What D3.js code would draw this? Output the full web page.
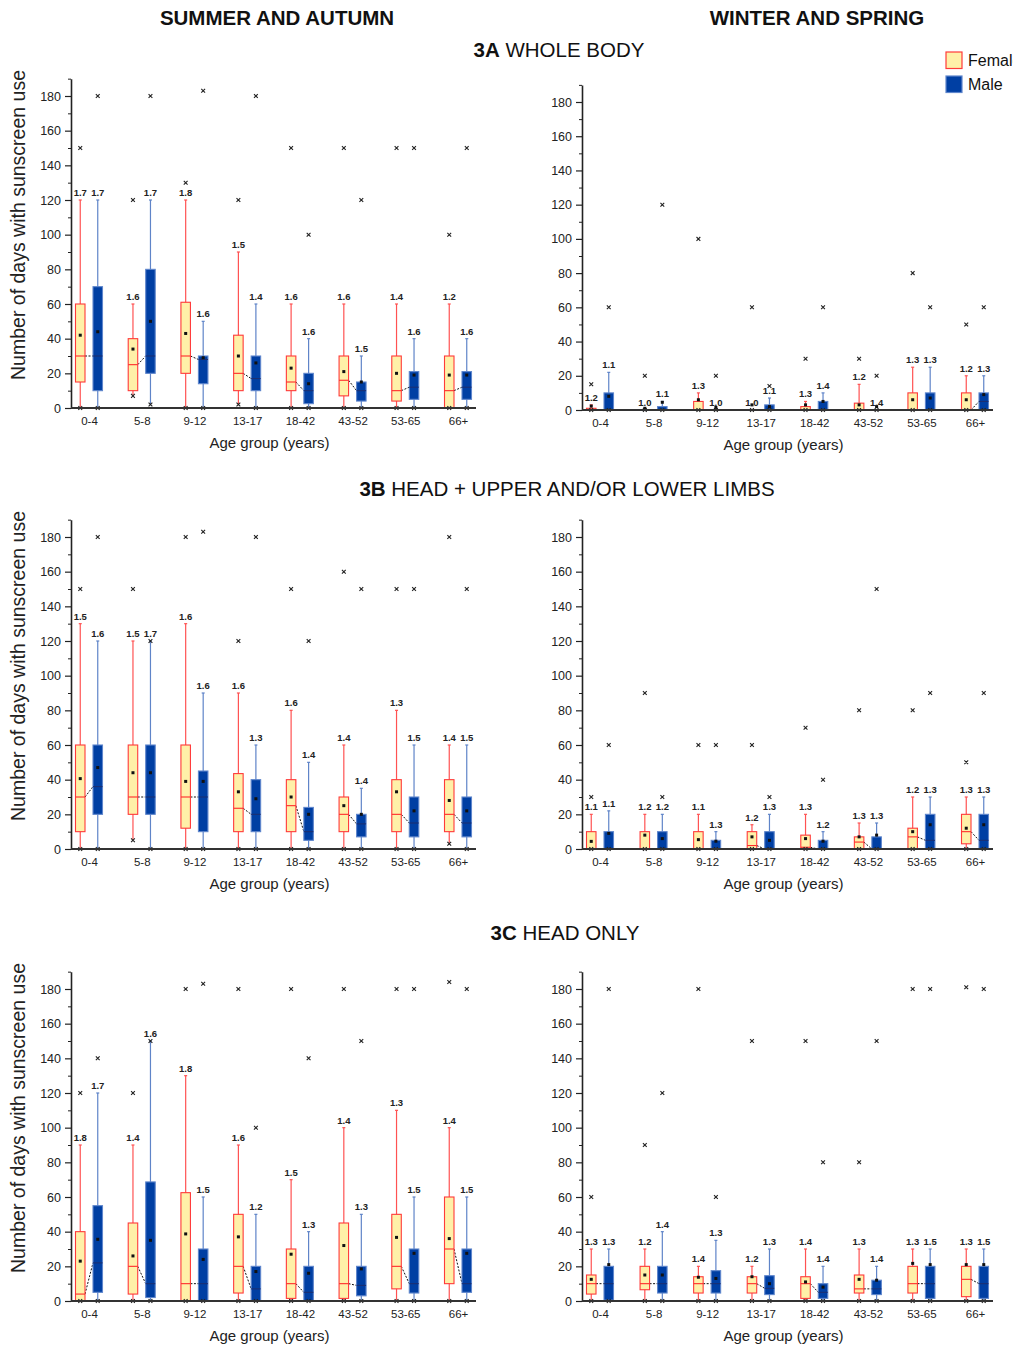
<!DOCTYPE html>
<html>
<head>
<meta charset="utf-8">
<script src="https://cdn.jsdelivr.net/npm/d3@7/dist/d3.min.js"></script>
<style>
  body { margin: 0; background: #fff; }
  svg { font-family: "Liberation Sans", Arial, sans-serif; display: block; }
</style>
</head>
<body>
<svg id="chart" width="1024" height="1361"></svg>
<script>
// ************************** DATA **************************//

var ageGroups = ["0-4", "5-8", "9-12", "13-17", "18-42", "43-52", "53-65", "66+"];
var sexes = ["Female", "Male"];
var yTicks = [0, 20, 40, 60, 80, 100, 120, 140, 160, 180];
var yMinorTicks = [10, 30, 50, 70, 90, 110, 130, 150, 170, 190];

// row: [whisker low, Q1, median, Q3, whisker high, mean, ratio label, x marks (min/max)]
var wholeSummerF = [
  [0, 15, 30, 60, 120, 42, "1.7", [150, 0]],
  [7, 10, 25, 40, 60, 34, "1.6", [120, 7]],
  [0, 20, 30, 61, 120, 43, "1.8", [130, 0]],
  [2, 10, 20, 42, 90, 30, "1.5", [120, 2]],
  [0, 10, 15, 30, 60, 23, "1.6", [150, 0]],
  [0, 7, 16, 30, 60, 21, "1.6", [150, 0]],
  [0, 4, 10, 30, 60, 20, "1.4", [150, 0]],
  [0, 0, 10, 30, 60, 19, "1.2", [100, 0]]
];
var wholeSummerM = [
  [0, 10, 30, 70, 120, 44, "1.7", [180, 0]],
  [2, 20, 30, 80, 120, 50, "1.7", [180, 2]],
  [0, 14, 28, 30, 50, 29, "1.6", [183, 0]],
  [0, 10, 17, 30, 60, 26, "1.4", [180, 0]],
  [0, 2.5, 10, 20, 40, 14, "1.6", [100, 0]],
  [0, 4, 10, 15, 30, 15, "1.5", [120, 0]],
  [0, 5, 12, 21, 40, 19, "1.6", [150, 0]],
  [0, 5, 12, 21, 40, 19, "1.6", [150, 0]]
];
var wholeWinterF = [
  [0, 0, 0, 1, 3, 2.3, "1.2", [15, 0]],
  [0, 0, 0, 0, 0, 1, "1.0", [20, 0]],
  [0, 0, 0, 5, 10, 6, "1.3", [100, 0]],
  [0, 0, 0, 0, 0, 3, "1.0", [60, 0]],
  [0, 0, 0, 2, 5, 3, "1.3", [30, 0]],
  [0, 0, 0, 4, 15, 3, "1.2", [30, 0]],
  [0, 0, 0, 10, 25, 6, "1.3", [80, 0]],
  [0, 0, 0, 10, 20, 6, "1.2", [50, 0]]
];
var wholeWinterM = [
  [0, 0, 0, 10, 22, 8, "1.1", [60, 0]],
  [0, 0, 0, 2, 5, 4.5, "1.1", [120, 0]],
  [0, 0, 0, 0, 0, 1.5, "1.0", [20, 0]],
  [0, 0, 0, 3, 7, 2, "1.1", [14, 0]],
  [0, 0, 0, 5, 10, 5, "1.4", [60, 0]],
  [0, 0, 0, 0, 0, 2, "1.4", [20, 0]],
  [0, 0, 0, 10, 25, 7, "1.3", [60, 0]],
  [0, 0, 5, 10, 20, 9, "1.3", [60, 0]]
];
var limbsSummerF = [
  [0, 10, 30, 60, 130, 40.6, "1.5", [150, 0]],
  [5, 20, 30, 60, 120, 44, "1.5", [150, 5]],
  [0, 12, 30, 60, 130, 39, "1.6", [180, 0]],
  [0, 10, 23.5, 43.5, 90, 33, "1.6", [120, 0]],
  [0, 10, 25, 40, 80, 30, "1.6", [150, 0]],
  [0, 10, 20, 30, 60, 25, "1.4", [160, 0]],
  [0, 10, 20, 40, 80, 33, "1.3", [150, 0]],
  [3, 10, 20, 40, 60, 28, "1.4", [180, 3]]
];
var limbsSummerM = [
  [0, 20, 36, 60, 120, 47, "1.6", [180, 0]],
  [0, 20, 30, 60, 120, 44, "1.7", [120, 0]],
  [0, 10, 30, 45, 90, 39, "1.6", [183, 0]],
  [0, 10, 20, 40, 60, 29, "1.3", [180, 0]],
  [0, 5, 10, 24, 50, 20, "1.4", [120, 0]],
  [0, 7, 14.5, 20, 35, 20, "1.4", [150, 0]],
  [0, 7, 15, 30, 60, 22, "1.5", [150, 0]],
  [0, 7, 15, 30, 60, 22, "1.5", [150, 0]]
];
var limbsWinterF = [
  [0, 0, 0, 10, 20, 4.4, "1.1", [30, 0]],
  [0, 0, 0, 10, 20, 8, "1.2", [90, 0]],
  [0, 0, 0, 10, 20, 5.4, "1.1", [60, 0]],
  [0, 0, 2, 10, 14, 7, "1.2", [60, 0]],
  [0, 0, 1, 8, 20, 6, "1.3", [70, 0]],
  [0, 0, 4, 7, 15, 7, "1.3", [80, 0]],
  [0, 0, 7, 12, 30, 10, "1.2", [80, 0]],
  [0, 3, 10, 20, 30, 12, "1.3", [50, 0]]
];
var limbsWinterM = [
  [0, 0, 0, 10, 22, 9, "1.1", [60, 0]],
  [0, 0, 0, 10, 20, 6, "1.2", [30, 0]],
  [0, 0, 0, 5, 10, 4.5, "1.3", [60, 0]],
  [0, 0, 0, 10, 20, 5, "1.3", [30, 0]],
  [0, 0, 0, 5, 10, 4.5, "1.2", [40, 0]],
  [0, 0, 0, 7, 15, 8, "1.3", [150, 0]],
  [0, 0, 5, 20, 30, 14, "1.3", [90, 0]],
  [0, 0, 5, 20, 30, 14, "1.3", [90, 0]]
];
var headSummerF = [
  [0, 0, 4, 40, 90, 23, "1.8", [120, 0]],
  [0, 4, 20, 45, 90, 26, "1.4", [120, 0]],
  [0, 0, 10, 62.5, 130, 38.7, "1.8", [180, 0]],
  [0, 4.6, 20, 50, 90, 37, "1.6", [180, 0]],
  [0, 1.5, 10, 30, 70, 27, "1.5", [180, 0]],
  [0, 1.5, 10, 45, 100, 32, "1.4", [180, 0]],
  [0, 7, 20, 50, 110, 36.7, "1.3", [180, 0]],
  [0, 10, 30, 60, 100, 36, "1.4", [184, 0]]
];
var headSummerM = [
  [0, 5, 22, 55, 120, 35.6, "1.7", [140, 0]],
  [0, 2, 10, 68.7, 150, 35, "1.6", [150, 0]],
  [0, 0, 10, 30, 60, 24, "1.5", [183, 0]],
  [0, 0, 7, 20, 50, 17, "1.2", [100, 0]],
  [0, 0, 5, 20, 40, 16, "1.3", [140, 0]],
  [0, 3, 9, 20, 50, 18.5, "1.3", [150, 0]],
  [0, 4.6, 10, 30, 60, 27.5, "1.5", [180, 0]],
  [0, 5, 10, 30, 60, 27.5, "1.5", [180, 0]]
];
var headWinterF = [
  [0, 4, 10, 15, 30, 12.5, "1.3", [60, 0]],
  [0, 6.5, 10, 20, 30, 15, "1.2", [90, 0]],
  [0, 4.6, 10, 14, 20, 13.7, "1.4", [180, 0]],
  [0, 4.6, 10, 14, 20, 14, "1.2", [150, 0]],
  [0, 1.5, 10, 14, 30, 11, "1.4", [150, 0]],
  [0, 4.6, 7, 15, 30, 12.5, "1.3", [80, 0]],
  [0, 4.6, 10, 20, 30, 21.7, "1.3", [180, 0]],
  [0, 2.5, 12.5, 20, 30, 21, "1.3", [181, 0]]
];
var headWinterM = [
  [0, 0.5, 10, 20, 30, 21, "1.3", [180, 0]],
  [0, 4.6, 10, 20, 40, 15, "1.4", [120, 0]],
  [0, 4.6, 10, 17.5, 35, 13, "1.3", [60, 0]],
  [0, 3.7, 7.3, 14.6, 30, 10, "1.3", [0]],
  [0, 1.5, 5, 10, 20, 8, "1.4", [80, 0]],
  [0, 3.7, 7, 12, 20, 12, "1.4", [150, 0]],
  [0, 1.5, 10, 20, 30, 21, "1.5", [180, 0]],
  [0, 1.5, 10, 20, 30, 21, "1.5", [180, 0]]
];

// ************************** LAYOUT **************************//

var panels = [
  {f: wholeSummerF, m: wholeSummerM, left: 71, right: 476, y0: 408, y180: 96, yTitle: true},
  {f: wholeWinterF, m: wholeWinterM, left: 582, right: 993, y0: 410, y180: 102, yTitle: false},
  {f: limbsSummerF, m: limbsSummerM, left: 71, right: 476, y0: 849, y180: 537, yTitle: true},
  {f: limbsWinterF, m: limbsWinterM, left: 582, right: 993, y0: 849, y180: 537, yTitle: false},
  {f: headSummerF, m: headSummerM, left: 71, right: 476, y0: 1301, y180: 989, yTitle: true},
  {f: headWinterF, m: headWinterM, left: 582, right: 993, y0: 1301, y180: 989, yTitle: false}
];

var color = {
  Female: {fill: "#fff0a8", stroke: "#ff3a3a", whisker: "#ff5252", median: "#ff2a2a"},
  Male: {fill: "#003fa3", stroke: "#5f86cc", whisker: "#5f84c8", median: "#1b2f72"}
};
var boxW = 9.5, offset = 8.75;

var svg = d3.select("#chart");

// ************************** TITLES **************************//

svg.append("text").attr("x", 277).attr("y", 25).attr("text-anchor", "middle")
  .attr("font-size", 20.5).attr("font-weight", "bold").attr("fill", "#111").text("SUMMER AND AUTUMN");
svg.append("text").attr("x", 817).attr("y", 25).attr("text-anchor", "middle")
  .attr("font-size", 20.5).attr("font-weight", "bold").attr("fill", "#111").text("WINTER AND SPRING");

var sections = [
  {code: "3A", name: " WHOLE BODY", x: 559, y: 57},
  {code: "3B", name: " HEAD + UPPER AND/OR LOWER LIMBS", x: 567, y: 496},
  {code: "3C", name: " HEAD ONLY", x: 565, y: 940}
];
sections.forEach(function(s) {
  var t = svg.append("text").attr("x", s.x).attr("y", s.y).attr("text-anchor", "middle")
    .attr("font-size", 20.5).attr("fill", "#111");
  t.append("tspan").attr("font-weight", "bold").text(s.code);
  t.append("tspan").text(s.name);
});

// legend (cut at the right edge as in the figure)
svg.append("clipPath").attr("id", "legendClip")
  .append("rect").attr("x", 930).attr("y", 40).attr("width", 83).attr("height", 70);
var legend = svg.append("g").attr("clip-path", "url(#legendClip)")
  .append("g").attr("transform", "translate(946,52)");
sexes.forEach(function(s, i) {
  legend.append("rect").attr("x", 0).attr("y", i * 24).attr("width", 16).attr("height", 16.5)
    .attr("fill", color[s].fill).attr("stroke", color[s].stroke).attr("stroke-width", 1.2);
  legend.append("text").attr("x", 22).attr("y", i * 24 + 14).attr("font-size", 16)
    .attr("fill", "#111").text(s);
});

// ************************** PANELS **************************//

function cross(g, cx, cy) {
  var a = 1.9;
  g.append("path")
    .attr("d", `M${cx - a},${cy - a}L${cx + a},${cy + a}M${cx - a},${cy + a}L${cx + a},${cy - a}`)
    .attr("stroke", "#222").attr("stroke-width", 1.1);
}

panels.forEach(function(p) {
  var g = svg.append("g");
  var ppu = (p.y0 - p.y180) / 180;

  var y = d3.scaleLinear().domain([0, 190]).range([p.y0, p.y0 - 190 * ppu]);
  var x = d3.scalePoint().domain(ageGroups).range([p.left + 18, p.right - 18]);

  // y axis
  g.append("g").attr("transform", `translate(${p.left},0)`)
    .call(d3.axisLeft(y).tickValues(yMinorTicks).tickSize(3).tickFormat(""))
    .call(function(a) { a.select(".domain").remove(); })
    .call(function(a) { a.selectAll(".tick line").attr("stroke", "#222"); });
  g.append("g").attr("transform", `translate(${p.left},0)`)
    .call(d3.axisLeft(y).tickValues(yTicks).tickSize(6).tickSizeOuter(0).tickPadding(4))
    .call(function(a) { a.select(".domain").attr("stroke", "#222").attr("stroke-width", 1.6); })
    .call(function(a) { a.selectAll(".tick line").attr("stroke", "#222").attr("stroke-width", 1.2); })
    .call(function(a) {
      a.selectAll(".tick text").attr("font-size", 12.5).attr("fill", "#222")
        .attr("font-family", "Liberation Sans, Arial, sans-serif");
    });

  // x axis
  g.append("g").attr("transform", `translate(0,${p.y0})`)
    .call(d3.axisBottom(x).tickSize(0).tickPadding(9))
    .call(function(a) { a.select(".domain").remove(); })
    .call(function(a) {
      a.selectAll(".tick text").attr("font-size", 11.5).attr("fill", "#222")
        .attr("font-family", "Liberation Sans, Arial, sans-serif");
    });

  // dashed median connectors
  ageGroups.forEach(function(grp, i) {
    var cx = x(grp);
    g.append("line")
      .attr("x1", cx - offset + boxW / 2).attr("y1", y(p.f[i][2]))
      .attr("x2", cx + offset - boxW / 2).attr("y2", y(p.m[i][2]))
      .attr("stroke", "#111").attr("stroke-width", 1).attr("stroke-dasharray", "2,1.5");
  });

  sexes.forEach(function(s, si) {
    var rows = si === 0 ? p.f : p.m;
    var c = color[s];
    rows.forEach(function(d, i) {
      var cx = x(ageGroups[i]) + (si === 0 ? -offset : offset);
      var bx = g.append("g");
      // whisker
      bx.append("line").attr("x1", cx).attr("x2", cx).attr("y1", y(d[0])).attr("y2", y(d[4]))
        .attr("stroke", c.whisker).attr("stroke-width", 1.2);
      bx.append("line").attr("x1", cx - 1.5).attr("x2", cx + 1.5).attr("y1", y(d[4])).attr("y2", y(d[4]))
        .attr("stroke", c.whisker).attr("stroke-width", 1.2);
      // box
      if (d[3] > d[1]) {
        bx.append("rect").attr("x", cx - boxW / 2).attr("y", y(d[3]))
          .attr("width", boxW).attr("height", y(d[1]) - y(d[3]))
          .attr("fill", c.fill).attr("stroke", c.stroke).attr("stroke-width", 1.1);
        bx.append("line").attr("x1", cx - boxW / 2).attr("x2", cx + boxW / 2)
          .attr("y1", y(d[2])).attr("y2", y(d[2]))
          .attr("stroke", c.median).attr("stroke-width", 1.1);
      }
      // min / max marks
      d[7].forEach(function(v) { cross(bx, cx, y(v)); });
      // mean
      bx.append("rect").attr("x", cx - 1.5).attr("y", y(d[5]) - 1.5)
        .attr("width", 3).attr("height", 3).attr("fill", "#111");
      // ratio label
      bx.append("text").attr("x", cx).attr("y", y(d[4]) - 4).attr("text-anchor", "middle")
        .attr("font-size", 9.5).attr("font-weight", "bold").attr("fill", "#222").text(d[6]);
    });
  });

  // x axis line on top of boxes
  g.append("line").attr("x1", p.left).attr("x2", p.right).attr("y1", p.y0).attr("y2", p.y0)
    .attr("stroke", "#333").attr("stroke-width", 2);

  // axis titles
  g.append("text").attr("x", (p.left + p.right) / 2 - 4).attr("y", p.y0 + 40)
    .attr("text-anchor", "middle").attr("font-size", 15).attr("fill", "#222").text("Age group (years)");
  if (p.yTitle) {
    g.append("text").attr("transform", `translate(25,${p.y0 - 183}) rotate(-90)`)
      .attr("text-anchor", "middle").attr("font-size", 19.5).attr("fill", "#222")
      .text("Number of days with sunscreen use");
  }
});
</script>
</body>
</html>
